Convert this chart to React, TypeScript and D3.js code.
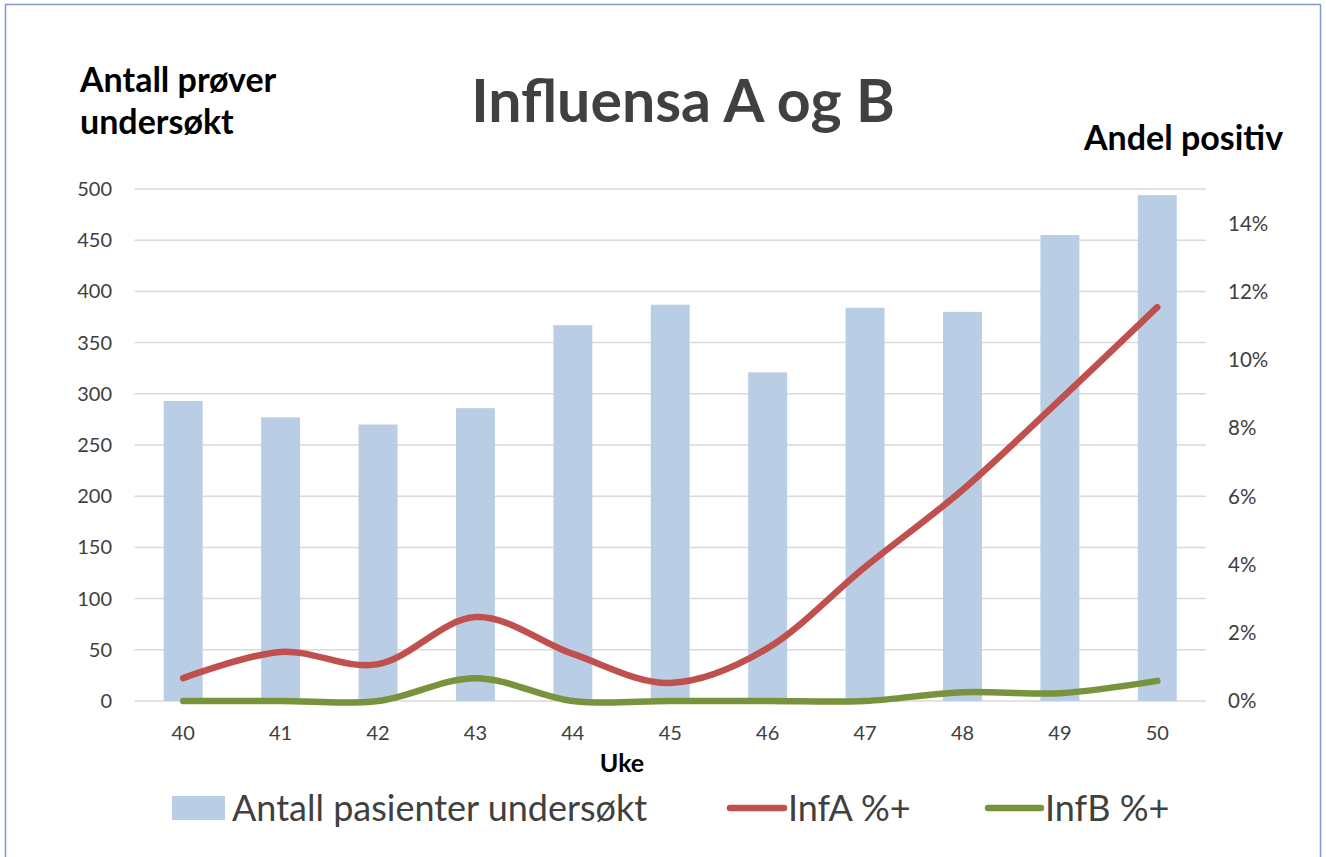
import React from "react";
import * as d3 from "d3";

const weeks = ["40", "41", "42", "43", "44", "45", "46", "47", "48", "49", "50"];
const patientsTested = [293, 277, 270, 286, 367, 387, 321, 384, 380, 455, 494];
const infAPct = [0.67, 1.44, 1.08, 2.46, 1.38, 0.53, 1.55, 3.93, 6.19, 8.83, 11.55];
const infBPct = [0, 0, 0, 0.67, 0, 0, 0, 0, 0.26, 0.23, 0.59];
const leftTicks = [0, 50, 100, 150, 200, 250, 300, 350, 400, 450, 500];
const rightTicks = [0, 2, 4, 6, 8, 10, 12, 14];

const W = 1326;
const H = 857;
const FONT = "Lato, 'Open Sans', sans-serif";

export default function App() {
  const x = d3.scaleBand<string>().domain(weeks).range([134.5, 1206]).paddingInner(0.6).paddingOuter(0.3);
  const xc = (w: string) => (x(w) as number) + x.bandwidth() / 2;
  const yL = d3.scaleLinear().domain([0, 500]).range([701, 189]);
  const yR = d3.scaleLinear().domain([0, 15]).range([701, 189.5]);

  const line = d3
    .line<number>()
    .x((_, i) => xc(weeks[i]))
    .y((d) => yR(d))
    .curve(d3.curveCardinal.tension(0));

  return (
    <svg width={W} height={H} style={{ position: "absolute", left: 0, top: 0, background: "#fff" }}>
      <rect x={5.5} y={4.5} width={1315} height={860} fill="#fff" stroke="#7A9CCF" strokeWidth={1.5} />
      {leftTicks.map((t) => (
        <line key={t} x1={134.5} x2={1206} y1={yL(t)} y2={yL(t)} stroke="#D9D9D9" strokeWidth={1.5} />
      ))}
      {weeks.map((w, i) => (
        <rect
          key={w}
          x={x(w)}
          y={yL(patientsTested[i])}
          width={x.bandwidth()}
          height={yL(0) - yL(patientsTested[i])}
          fill="#B9CDE5"
        />
      ))}
      <path d={line(infAPct) || ""} fill="none" stroke="#C0504D" strokeWidth={6.5} strokeLinecap="round" />
      <path d={line(infBPct) || ""} fill="none" stroke="#77933C" strokeWidth={6.5} strokeLinecap="round" />
      {leftTicks.map((t) => (
        <text key={t} x={112} y={yL(t)} dy="0.35em" textAnchor="end" fontSize={20} fill="#404040" fontFamily={FONT}>
          {t}
        </text>
      ))}
      {rightTicks.map((t) => (
        <text key={t} x={1228} y={yR(t)} dy="0.35em" textAnchor="start" fontSize={20.5} fill="#404040" fontFamily={FONT}>
          {t}%
        </text>
      ))}
      {weeks.map((w) => (
        <text key={w} x={xc(w)} y={733} dy="0.35em" textAnchor="middle" fontSize={20} fill="#404040" fontFamily={FONT}>
          {w}
        </text>
      ))}
      <text x={622} y={763} dy="0.35em" textAnchor="middle" fontSize={25} fontWeight="bold" fill="#000" fontFamily={FONT}>
        Uke
      </text>
      <text x={683} y={122} textAnchor="middle" fontSize={59} fontWeight="bold" fill="#404040" fontFamily={FONT}>
        Influensa A og B
      </text>
      <text x={80} y={92} fontSize={34} fontWeight="bold" fill="#000" fontFamily={FONT}>
        Antall prøver
      </text>
      <text x={80} y={134} fontSize={34} fontWeight="bold" fill="#000" fontFamily={FONT}>
        undersøkt
      </text>
      <text x={1084} y={150} fontSize={34} fontWeight="bold" fill="#000" fontFamily={FONT}>
        Andel positiv
      </text>
      <rect x={172} y={796} width={53} height={24} fill="#B9CDE5" />
      <text x={232} y={808} dy="0.35em" fontSize={36} fill="#404040" fontFamily={FONT}>
        Antall pasienter undersøkt
      </text>
      <line x1={730} x2={784} y1={808} y2={808} stroke="#C0504D" strokeWidth={6.5} strokeLinecap="round" />
      <text x={788} y={808} dy="0.35em" fontSize={36} fill="#404040" fontFamily={FONT}>
        InfA %+
      </text>
      <line x1={988} x2={1041} y1={808} y2={808} stroke="#77933C" strokeWidth={6.5} strokeLinecap="round" />
      <text x={1045} y={808} dy="0.35em" fontSize={36} fill="#404040" fontFamily={FONT}>
        InfB %+
      </text>
    </svg>
  );
}
